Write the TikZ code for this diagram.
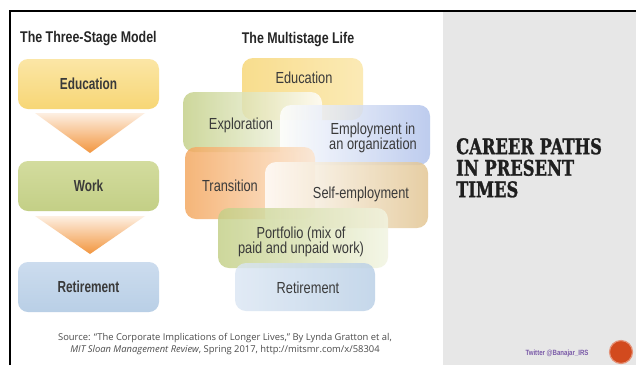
\documentclass[tikz,border=0pt]{standalone}
\usepackage{fontspec}
\setmainfont{Liberation Sans}
\newfontfamily\cond{Liberation Sans}[FakeStretch=0.8]
\newfontfamily\condx{Liberation Sans}[FakeStretch=0.74]
\newfontfamily\srcfont{Open Sans}
\newfontfamily\titlefont{DejaVu Serif}[FakeStretch=0.76,FakeBold=1.2]
\definecolor{txt}{HTML}{3A3A3A}
\definecolor{eduY}{HTML}{F7D675}
\definecolor{eduYl}{HTML}{FBE6A6}
\definecolor{wrkG}{HTML}{C3CF86}
\definecolor{wrkGl}{HTML}{D3DC9E}
\definecolor{retB}{HTML}{B9CFE6}
\definecolor{retBl}{HTML}{CCDCEE}
\definecolor{triO}{HTML}{F2963F}
\definecolor{panel}{HTML}{E7E7E7}
\definecolor{twit}{HTML}{7A5AA8}
\definecolor{dot}{HTML}{D24A1E}
\tikzset{
  lbox/.style={rounded corners=10pt, minimum width=141pt, minimum height=50pt, inner sep=0pt,
    font=\condx\bfseries\fontsize{16}{18}\selectfont, text=txt},
  mbox/.style={rounded corners=11pt, inner sep=0pt, fill opacity=0.82, text opacity=1},
  mlabel/.style={font=\cond\fontsize{16}{15.5}\selectfont, text=txt, align=center, inner sep=0pt},
  head/.style={font=\cond\bfseries\fontsize{15.5}{17}\selectfont, text=black!85, inner sep=0pt},
}
\begin{document}
\begin{tikzpicture}[x=1pt,y=-1pt]
\useasboundingbox (0,0) rectangle (636,365);
\fill[white] (0,0) rectangle (636,365);
% grey panel
\fill[panel] (443,11) rectangle (636,365);
% frame
\draw[line width=2pt] (10,365) -- (10,11) -- (636,11);

% ---- left: three-stage model
\node[head, anchor=west] (h1) at (20,39) {The Three-Stage Model};
\node[lbox, top color=eduYl, bottom color=eduY] (l-edu) at (88.5,84) {Education};
\node[lbox, top color=wrkGl, bottom color=wrkG] (l-wrk) at (88.5,186) {Work};
\node[lbox, top color=retBl, bottom color=retB] (l-ret) at (88.5,287) {Retirement};
\shade[top color=triO!15, bottom color=triO] (35,113) -- (145,113) -- (90,153) -- cycle;
\shade[top color=triO!15, bottom color=triO] (35,216) -- (145,216) -- (90,254) -- cycle;

% ---- middle: multistage life
\node[head] (h2) at (298,40) {The Multistage Life};
\node[mbox, minimum width=121pt, minimum height=62pt, left color=eduY, right color=eduYl] (m-edu) at (302.5,89) {};
\node[mbox, minimum width=139pt, minimum height=60pt, left color=wrkG, right color=white] (m-exp) at (252.5,122) {};
\node[mbox, minimum width=150pt, minimum height=60pt, left color=white, right color=retB!90!blue!90] (m-emp) at (355,135) {};
\node[mbox, minimum width=130pt, minimum height=72pt, left color=triO!85, right color=triO!25] (m-tra) at (250,183) {};
\node[mbox, minimum width=163pt, minimum height=66pt, left color=white, right color={rgb,255:red,226;green,196;blue,144}] (m-sel) at (346.5,195) {};
\node[mbox, minimum width=170pt, minimum height=60pt, left color=wrkG, right color=wrkGl!30] (m-por) at (303,238) {};
\node[mbox, minimum width=140pt, minimum height=48pt, left color=retBl!70, right color=retB] (m-ret) at (305,287) {};

\node[mlabel] (t-edu) at (304,78) {Education};
\node[mlabel] (t-exp) at (241,125) {Exploration};
\node[mlabel] (t-emp) at (373,138) {Employment in\\an organization};
\node[mlabel] (t-tra) at (230,186) {Transition};
\node[mlabel] (t-sel) at (361,194) {Self-employment};
\node[mlabel] (t-por) at (301,242) {Portfolio (mix of\\paid and unpaid work)};
\node[mlabel] (t-ret) at (308,288) {Retirement};

% ---- source
\node[font=\srcfont\fontsize{9.4}{12}\selectfont, text=black!70, align=center, inner sep=0pt] (src) at (225,344)
  {Source: “The Corporate Implications of Longer Lives,” By Lynda Gratton et al,\\
   \textit{MIT Sloan Management Review}, Spring 2017, http://mitsmr.com/x/58304};

% ---- right panel
\node[font=\titlefont\bfseries\fontsize{21.5}{21.5}\selectfont, text=black!88, align=left, anchor=north west, inner sep=0pt] (title) at (456,138)
  {CAREER PATHS\\IN PRESENT\\TIMES};
\node[font=\cond\bfseries\fontsize{7.6}{8}\selectfont, text=twit, inner sep=0pt] (tw) at (557,354) {Twitter @Banajar\_IRS};
\node[circle, minimum size=23pt, inner sep=0pt, fill=dot, draw=dot!60!white, line width=1.2pt] (dotc) at (621,352) {};
\end{tikzpicture}
\end{document}
